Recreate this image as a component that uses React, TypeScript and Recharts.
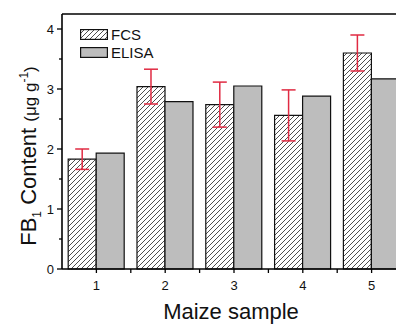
import { BarChart, Bar, XAxis, YAxis, ErrorBar, ReferenceLine } from "recharts"

const samples = ["1", "2", "3", "4", "5"]
const fcs = [1.83, 3.04, 2.74, 2.56, 3.6]
const fcsErr = [0.17, 0.29, 0.375, 0.425, 0.3]
const elisa = [1.93, 2.79, 3.05, 2.88, 3.17]
const yTicks = [0, 0.5, 1, 1.5, 2, 2.5, 3, 3.5, 4]

const data = samples.map((s, i) => ({
  sample: s,
  fcs: fcs[i],
  fcsErr: fcsErr[i],
  elisa: elisa[i],
}))

const FONT = "'Liberation Sans', Arial, Helvetica, sans-serif"
const W = 410
const H = 325
const LEFT = 62
const RIGHT = 4
const BAND = (W - LEFT - RIGHT) / samples.length
const GRAY = "#bdbdbd"
const RED = "#e02a42"

function YTick(props: any) {
  const { x, y, payload } = props
  const major = Number.isInteger(payload.value)
  return (
    <g>
      <line x1={x} x2={x - (major ? 5 : 3)} y1={y} y2={y} stroke="#000" strokeWidth={1.3} />
      {major && (
        <text x={x - 8} y={y + 5} textAnchor="end" fontSize={13} fontFamily={FONT} fill="#111">
          {payload.value}
        </text>
      )}
    </g>
  )
}

function XTick(props: any) {
  const { x, y, payload } = props
  return (
    <g>
      <line x1={x} x2={x} y1={y} y2={y + 4} stroke="#000" strokeWidth={1.3} />
      <line x1={x + BAND / 2} x2={x + BAND / 2} y1={y} y2={y + 4} stroke="#000" strokeWidth={1.3} />
      <text x={x} y={y + 21} textAnchor="middle" fontSize={13} fontFamily={FONT} fill="#111">
        {payload.value}
      </text>
    </g>
  )
}

function YLabel() {
  return (
    <text
      transform="translate(36,156) rotate(-90)"
      textAnchor="middle"
      fontFamily={FONT}
      fill="#111"
      fontSize={22}
    >
      FB
      <tspan fontSize={12} dy={5}>1</tspan>
      <tspan dy={-5}> Content </tspan>
      <tspan fontSize={17}>(μg g</tspan>
      <tspan fontSize={12} dy={-8}>-1</tspan>
      <tspan fontSize={17} dy={8}>)</tspan>
    </text>
  )
}

function XLabel() {
  return (
    <text x={231} y={319} textAnchor="middle" fontFamily={FONT} fill="#111" fontSize={22}>
      Maize sample
    </text>
  )
}

export default function App() {
  return (
    <div style={{ position: "fixed", left: 0, top: 0, width: 396, height: 325, overflow: "hidden", background: "#fff" }}>
      <svg width={0} height={0} style={{ position: "absolute" }}>
        <defs>
          <pattern id="hatch" patternUnits="userSpaceOnUse" width={5} height={5}>
            <path d="M0,5 L5,0 M-1,1 L1,-1 M4,6 L6,4" stroke="#222" strokeWidth={0.8} />
          </pattern>
        </defs>
      </svg>
      <BarChart
        width={W}
        height={H}
        data={data}
        margin={{ top: 14, right: RIGHT, left: 0, bottom: 0 }}
        barCategoryGap="9%"
        barGap={0}
      >
        <XAxis
          dataKey="sample"
          height={56}
          tickSize={0}
          tickMargin={0}
          tick={<XTick />}
          tickLine={false}
          axisLine={{ stroke: "#000", strokeWidth: 1.6 }}
          label={<XLabel />}
        />
        <YAxis
          width={LEFT}
          domain={[0, 4.25]}
          ticks={yTicks}
          interval={0}
          tickSize={0}
          tickMargin={0}
          tick={<YTick />}
          tickLine={false}
          axisLine={{ stroke: "#000", strokeWidth: 1.6 }}
          label={<YLabel />}
        />
        <ReferenceLine y={4.25} stroke="#000" strokeWidth={1.6} />
        <Bar dataKey="fcs" fill="url(#hatch)" stroke="#111" strokeWidth={1.2} isAnimationActive={false}>
          <ErrorBar dataKey="fcsErr" width={7} stroke={RED} strokeWidth={1.5} isAnimationActive={false} />
        </Bar>
        <Bar dataKey="elisa" fill={GRAY} stroke="#111" strokeWidth={1.2} isAnimationActive={false} />
      </BarChart>
      <div style={{ position: "absolute", left: 80, top: 25, fontFamily: FONT, fontSize: 15, color: "#111" }}>
        <div style={{ display: "flex", alignItems: "center", height: 18 }}>
          <svg width={28} height={11} style={{ marginRight: 3 }}>
            <rect x={0.6} y={0.6} width={26.8} height={9.8} fill="url(#hatch)" stroke="#111" strokeWidth={1.2} />
          </svg>
          FCS
        </div>
        <div style={{ display: "flex", alignItems: "center", height: 18 }}>
          <svg width={28} height={11} style={{ marginRight: 3 }}>
            <rect x={0.6} y={0.6} width={26.8} height={9.8} fill={GRAY} stroke="#111" strokeWidth={1.2} />
          </svg>
          ELISA
        </div>
      </div>
    </div>
  )
}
